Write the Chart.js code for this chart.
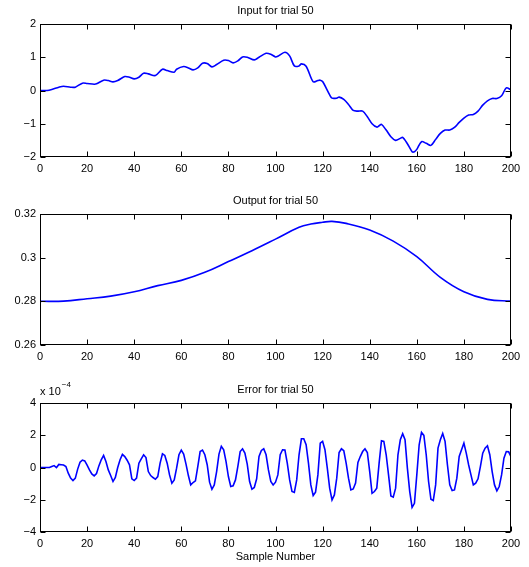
<!DOCTYPE html>
<html>
<head>
<meta charset="utf-8">
<script src="https://cdn.jsdelivr.net/npm/chart.js@4.4.0/dist/chart.umd.min.js"></script>
<style>
  body { margin: 0; background: #fff; }
  #wrap { position: relative; width: 529px; height: 567px; }
  canvas { position: absolute; left: 0; }
</style>
</head>
<body>
<div id="wrap">
  <canvas id="c1" width="529" height="189" style="top:0"></canvas>
  <canvas id="c2" width="529" height="189" style="top:189px"></canvas>
  <canvas id="c3" width="529" height="189" style="top:378px"></canvas>
</div>
<script>
// input signal (sample number, value)
const inputX = [0,3,5,8,10,13,15,18,20,23,24,27,29,31,33,36,38,40,42,44,46,49,52,54,57,58,61,63,65,67,69,71,73,75,78,80,82,84,86,88,91,93,96,98,100,101,104,106,108,110,111,113,116,118,119,120,123,124,126,127,129,131,133,135,137,139,141,143,144,145,147,149,151,153,154,156,158,159,160,162,164,166,168,170,172,174,176,178,180,182,184,186,188,190,192,194,196,198,200];
const inputY = [0,0,0.03,0.1,0.13,0.1,0.1,0.22,0.21,0.19,0.2,0.31,0.3,0.26,0.3,0.42,0.4,0.35,0.4,0.52,0.5,0.45,0.64,0.6,0.55,0.64,0.72,0.68,0.62,0.68,0.82,0.81,0.71,0.78,0.91,0.9,0.83,0.89,1.01,1.0,0.92,1.0,1.12,1.09,1.01,1.03,1.15,1.04,0.74,0.74,0.8,0.73,0.26,0.3,0.31,0.27,-0.13,-0.23,-0.23,-0.2,-0.27,-0.42,-0.6,-0.62,-0.62,-0.79,-1.0,-1.1,-1.06,-1.02,-1.19,-1.39,-1.5,-1.44,-1.41,-1.6,-1.84,-1.84,-1.77,-1.54,-1.59,-1.65,-1.47,-1.29,-1.19,-1.19,-1.11,-0.96,-0.83,-0.74,-0.72,-0.62,-0.44,-0.31,-0.24,-0.24,-0.16,0.08,0.02];

// output signal
const outputX = [0,10,20,30,40,50,60,70,80,90,100,110,115,120,124,130,140,150,160,170,180,190,200];
const outputY = [0.28,0.2801,0.2812,0.2824,0.2844,0.2872,0.2896,0.2933,0.2982,0.3032,0.3085,0.3139,0.3154,0.3162,0.3166,0.3157,0.3127,0.3076,0.3005,0.291,0.2844,0.2809,0.2801];

// error, one value per sample 0..200, in units of 1e-4
const errorY = [
  0,0,0,0,0,0.06,0.12,0,0.19,0.17,
  0.15,0.06,-0.35,-0.66,-0.81,-0.66,-0.1,0.33,0.46,0.41,
  0.15,-0.15,-0.4,-0.52,-0.37,0.1,0.48,0.75,0.37,-0.15,
  -0.5,-0.87,-0.62,0,0.48,0.81,0.68,0.45,0.17,-0.7,
  -0.81,-0.66,0.27,0.54,0.79,0.62,-0.25,-0.5,-0.62,-0.73,
  -0.56,0.27,0.85,0.75,0.27,-0.46,-0.97,-0.77,-0.04,0.79,
  1.08,0.83,0.21,-0.5,-1.08,-0.93,-0.83,0.06,0.99,1.08,
  0.79,0.17,-0.91,-1.35,-1.08,-0.25,0.83,1.31,1.1,0.37,
  -0.56,-1.18,-1.14,-0.77,0.06,0.99,1.16,0.89,0.21,-0.87,
  -1.35,-1.24,-0.7,0.68,1.06,1.16,0.79,-0.15,-0.87,-1.08,
  -0.91,-0.46,0.79,1.1,1.08,0.27,-0.77,-1.49,-1.55,-0.77,
  0.79,1.78,1.78,1.41,0.27,-1.08,-1.74,-1.53,-0.46,1.51,
  1.62,1.1,-0.04,-1.28,-2.01,-1.7,-0.66,0.93,1.16,1.04,
  0.27,-0.66,-1.39,-1.33,-0.97,0.31,0.68,0.99,1.16,0.93,
  -0.25,-1.6,-1.49,-1.28,0.27,1.66,1.62,0.79,-0.46,-1.76,
  -1.84,-1.28,0.79,1.72,2.09,1.72,-0.04,-1.49,-2.47,-2.22,
  -0.46,1.41,2.18,1.99,0.79,-0.87,-1.97,-2.05,-1.08,1.2,
  1.72,2.11,1.62,0.17,-1.08,-1.43,-1.39,-0.66,0.68,1.1,
  1.51,0.89,0.17,-0.46,-1.08,-0.97,-0.7,0.06,0.89,1.2,
  1.35,0.79,-0.25,-1.08,-1.45,-1.18,-0.46,0.58,0.99,0.97,
  0.68
];

const xTicks = { min: 0, max: 200, step: 20 };

Chart.defaults.font.family = "'Liberation Sans', Arial, sans-serif";
Chart.defaults.font.size = 11;
Chart.defaults.color = "#000";

const fmt = (v) => {
  const s = String(Math.round(v * 100) / 100);
  return s.replace("-", "\u2212");
};

// matlab style box with inward ticks + title
const boxTicks = {
  id: "boxTicks",
  afterDraw(chart, args, opts) {
    const { ctx, chartArea: a, scales } = chart;
    const L = Math.round(a.left) + 0.5, R = Math.round(a.right) - 0.5;
    const T = Math.round(a.top) + 0.5, B = Math.round(a.bottom) - 0.5;
    ctx.save();
    ctx.strokeStyle = "#000";
    ctx.lineWidth = 1;
    ctx.strokeRect(L, T, R - L, B - T);
    ctx.beginPath();
    scales.x.ticks.forEach((t) => {
      const px = Math.round(scales.x.getPixelForValue(t.value)) + 0.5;
      ctx.moveTo(px, B); ctx.lineTo(px, B - 5);
      ctx.moveTo(px, T); ctx.lineTo(px, T + 5);
    });
    scales.y.ticks.forEach((t) => {
      const py = Math.round(scales.y.getPixelForValue(t.value)) + 0.5;
      ctx.moveTo(L, py); ctx.lineTo(L + 5, py);
      ctx.moveTo(R, py); ctx.lineTo(R - 5, py);
    });
    ctx.stroke();

    ctx.fillStyle = "#000";
    ctx.font = "11px 'Liberation Sans', Arial, sans-serif";
    ctx.textAlign = "center";
    ctx.textBaseline = "middle";
    ctx.fillText(opts.title, (a.left + a.right) / 2, a.top - 13);

    if (opts.exponent) {
      ctx.textAlign = "left";
      ctx.fillText("x 10", a.left, a.top - 11);
      const w = ctx.measureText("x 10").width;
      ctx.font = "8px 'Liberation Sans', Arial, sans-serif";
      ctx.fillText(opts.exponent, a.left + w + 1, a.top - 18);
    }
    ctx.restore();
  },
};

function makeChart(id, points, tension, yRange, title, padTop, xHeight, extra) {
  extra = extra || {};
  return new Chart(document.getElementById(id), {
    type: "line",
    data: {
      datasets: [{
        data: points,
        borderColor: "rgb(0,0,255)",
        borderWidth: 1.6,
        pointRadius: 0,
        tension: tension,
        fill: false,
      }],
    },
    options: {
      responsive: false,
      animation: false,
      devicePixelRatio: 1,
      layout: { padding: { left: 0, right: 18, top: padTop, bottom: 0 } },
      plugins: {
        legend: { display: false },
        tooltip: { enabled: false },
        boxTicks: { title: title, exponent: extra.exponent },
      },
      scales: {
        x: {
          type: "linear",
          min: xTicks.min,
          max: xTicks.max,
          grid: { display: false, drawTicks: false },
          border: { display: false },
          ticks: { stepSize: xTicks.step, padding: 5, maxRotation: 0, callback: fmt },
          title: extra.xTitle
            ? { display: true, text: extra.xTitle, padding: { top: 0, bottom: 3 } }
            : { display: false },
          afterFit(s) { s.height = xHeight; },
        },
        y: {
          min: yRange[0],
          max: yRange[1],
          grid: { display: false, drawTicks: false },
          border: { display: false },
          ticks: { stepSize: yRange[2], padding: 4, callback: fmt },
          afterFit(s) { s.width = 40; },
        },
      },
    },
    plugins: [boxTicks],
  });
}

makeChart("c1", inputX.map((x, i) => ({ x: x, y: inputY[i] })), 0.3,
  [-2, 2, 1], "Input for trial 50", 24, 32);
makeChart("c2", outputX.map((x, i) => ({ x: x, y: outputY[i] })), 0.4,
  [0.26, 0.32, 0.02], "Output for trial 50", 25, 33);
makeChart("c3", errorY.map((v, i) => ({ x: i, y: v })), 0,
  [-4, 4, 2], "Error for trial 50", 25, 35,
  { exponent: "\u22124", xTitle: "Sample Number" });
</script>
</body>
</html>
